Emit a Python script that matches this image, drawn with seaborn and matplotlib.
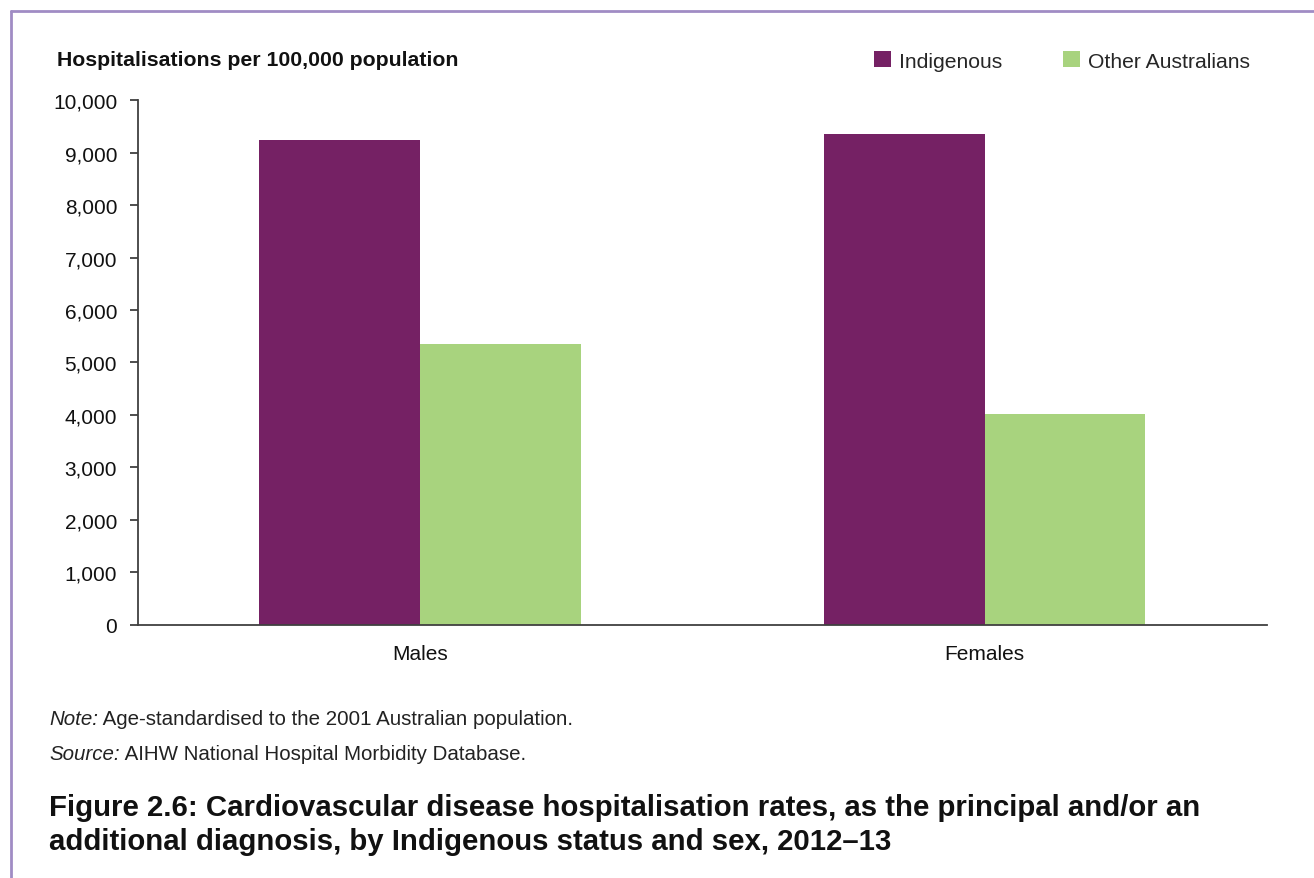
import matplotlib
matplotlib.use("Agg")
import matplotlib.pyplot as plt
from matplotlib.lines import Line2D
from matplotlib.patches import Patch
from matplotlib.ticker import FuncFormatter
import seaborn as sns
import pandas as pd

# Hospitalisation rates per 100,000 population, 2012-13
sexes = ["Males", "Females"]
groups = ["Indigenous", "Other Australians"]
indigenous = [9240, 9350]
other_australians = [5360, 4010]
y_ticks = [0, 1000, 2000, 3000, 4000, 5000, 6000, 7000, 8000, 9000, 10000]

colors = {"Indigenous": "#752164", "Other Australians": "#a8d37e"}

df = pd.DataFrame({
    "Sex": sexes * 2,
    "Group": [groups[0]] * 2 + [groups[1]] * 2,
    "Rate": indigenous + other_australians,
})

sns.set_theme(style="white")
plt.rcParams["font.family"] = ["Liberation Sans", "DejaVu Sans"]

fig = plt.figure(figsize=(13.14, 8.79), dpi=100)
ax = fig.add_axes([0.105, 0.288, 0.859, 0.597])

sns.barplot(data=df, x="Sex", y="Rate", hue="Group", order=sexes,
            hue_order=groups, palette=colors, width=0.57, gap=0,
            saturation=1, linewidth=0, ax=ax, legend=False)

ax.set_xlim(-0.5, 1.5)
ax.set_ylim(0, 10000)
ax.set_yticks(y_ticks)
ax.yaxis.set_major_formatter(FuncFormatter(lambda v, p: f"{int(v):,}"))
ax.set_xlabel("")
ax.set_ylabel("")

for side in ("top", "right"):
    ax.spines[side].set_visible(False)
for side in ("left", "bottom"):
    ax.spines[side].set_color("#404040")
    ax.spines[side].set_linewidth(1.3)

ax.tick_params(axis="y", which="major", left=True, length=6, width=1.3,
               color="#404040", labelsize=15, labelcolor="#111111", pad=9)
ax.tick_params(axis="x", bottom=False, labelsize=15, labelcolor="#111111", pad=8)

# Axis heading above the plot
fig.text(57 / 1314, 1 - 60 / 879, "Hospitalisations per 100,000 population",
         fontsize=15.3, fontweight="bold", color="#111111", va="center", ha="left")

# Legend
handles = [Patch(facecolor=colors[g], edgecolor="none", label=g) for g in groups]
fig.legend(handles=handles, loc="center right", bbox_to_anchor=(1250 / 1314, 1 - 62 / 879),
           ncol=2, frameon=False, fontsize=15.2, handlelength=0.8, handleheight=0.8,
           handletextpad=0.4, columnspacing=2.85, borderaxespad=0, borderpad=0)

# Notes
note_y = 1 - 720 / 879
t1 = fig.text(49 / 1314, note_y, "Note:", fontsize=14.8, style="italic",
              color="#222222", va="center", ha="left")
ax.annotate(" Age-standardised to the 2001 Australian population.", xy=(1, 0.5),
            xycoords=t1, va="center", ha="left", fontsize=14.8, color="#222222",
            annotation_clip=False)
src_y = 1 - 755 / 879
t2 = fig.text(49 / 1314, src_y, "Source:", fontsize=14.8, style="italic",
              color="#222222", va="center", ha="left")
ax.annotate(" AIHW National Hospital Morbidity Database.", xy=(1, 0.5),
            xycoords=t2, va="center", ha="left", fontsize=14.8, color="#222222",
            annotation_clip=False)

# Figure caption
fig.text(49 / 1314, 1 - 825 / 879,
         "Figure 2.6: Cardiovascular disease hospitalisation rates, as the principal and/or an\n"
         "additional diagnosis, by Indigenous status and sex, 2012\u201313",
         fontsize=21.2, fontweight="bold", color="#111111", va="center", ha="left",
         linespacing=1.3)

# Box frame on top and left edges
frame_color = "#a08cc4"
fig.add_artist(Line2D([11 / 1314, 1.0], [1 - 12 / 879, 1 - 12 / 879],
                      transform=fig.transFigure, color=frame_color, linewidth=2))
fig.add_artist(Line2D([11 / 1314, 11 / 1314], [0.0, 1 - 12 / 879],
                      transform=fig.transFigure, color=frame_color, linewidth=2))

fig.savefig("out.png", dpi=100, facecolor="white")
